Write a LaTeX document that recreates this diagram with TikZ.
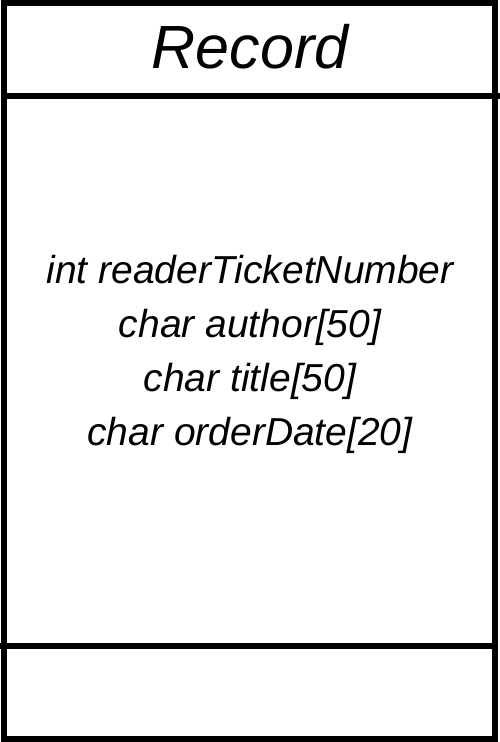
\documentclass[tikz,border=0pt]{standalone}
\usepackage{fontspec}
\setmainfont{Liberation Sans}
\usetikzlibrary{positioning}

\tikzset{
  frameline/.style={line width=6pt, line cap=rect},
  titletext/.style={font=\fontsize{61}{61}\selectfont\itshape, inner sep=0pt},
  fieldtext/.style={font=\fontsize{39}{54}\selectfont\itshape, inner sep=0pt, align=center}
}

\begin{document}
\begin{tikzpicture}[x=1pt, y=-1pt]

\useasboundingbox (0,0) rectangle (500,742);

% Outer frame of the class box
\draw[frameline] (3.5,3) rectangle (495,739);

% Dividers between name, fields and methods
\coordinate (hl) at (3.5,95.5);
\coordinate (hr) at (500,95.5);
\coordinate (bl) at (0,646);
\coordinate (br) at (495,646);
\draw[frameline, line cap=butt] (hl) -- (hr);
\draw[frameline, line cap=butt] (bl) -- (br);

% Class name
\node[titletext, anchor=base] (record) at (250,68) {Record};

% Fields
\node[fieldtext] (fields) at (250,354) {int readerTicketNumber\\
char author[50]\\
char title[50]\\
char orderDate[20]};

\end{tikzpicture}
\end{document}
